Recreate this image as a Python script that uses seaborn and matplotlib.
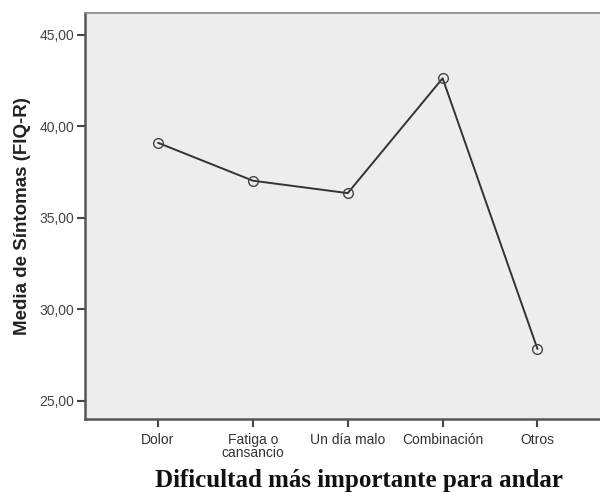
import matplotlib
matplotlib.use("Agg")
import matplotlib.pyplot as plt
import seaborn as sns
import pandas as pd

# Datos
categorias = ["Dolor", "Fatiga o\ncansancio", "Un día malo", "Combinación", "Otros"]
medias = [39.10, 37.03, 36.35, 42.63, 27.83]
yticks = [25, 30, 35, 40, 45]

sns.set_theme(style="white")
plt.rcParams["font.family"] = ["Liberation Sans", "DejaVu Sans"]

df = pd.DataFrame({"pos": range(len(categorias)), "media": medias})

fig = plt.figure(figsize=(6, 4.92), dpi=100)
ax = fig.add_axes([0.1417, 0.1484, 0.86, 0.8252])
ax.set_facecolor("#ededed")

sns.lineplot(data=df, x="pos", y="media", ax=ax, color="#333333", linewidth=1.4,
             marker="o", markersize=7, markerfacecolor="none",
             markeredgecolor="#444444", markeredgewidth=1.0, sort=False)

ax.set_xlim(-0.77, 4.67)
ax.set_ylim(24.0, 46.2)
ax.set_xticks(range(len(categorias)))
ax.set_xticklabels(categorias, fontsize=10, color="#333333", linespacing=0.95)
ax.set_yticks(yticks)
ax.set_yticklabels([f"{v:.2f}".replace(".", ",") for v in yticks], fontsize=10, color="#444444")
ax.tick_params(axis="both", direction="out", length=6, width=1.5, color="#444444",
               left=True, bottom=True, pad=2)
ax.tick_params(axis="x", pad=4)

for side in ["left", "bottom"]:
    ax.spines[side].set_color("#555555")
    ax.spines[side].set_linewidth(1.8)
ax.spines["top"].set_color("#888888")
ax.spines["top"].set_linewidth(1.2)
ax.spines["right"].set_visible(False)

ax.set_ylabel("Media de Síntomas (FIQ-R)", fontsize=13.5, fontweight="bold",
              color="#222222", labelpad=6)
ax.set_xlabel("")
fig.text(359 / 600, 1 - 480 / 492, "Dificultad más importante para andar",
         ha="center", va="center", fontsize=18, fontweight="bold",
         family=["Liberation Serif", "DejaVu Serif"], color="#111111")

fig.savefig("out.png", dpi=100, facecolor="white")
